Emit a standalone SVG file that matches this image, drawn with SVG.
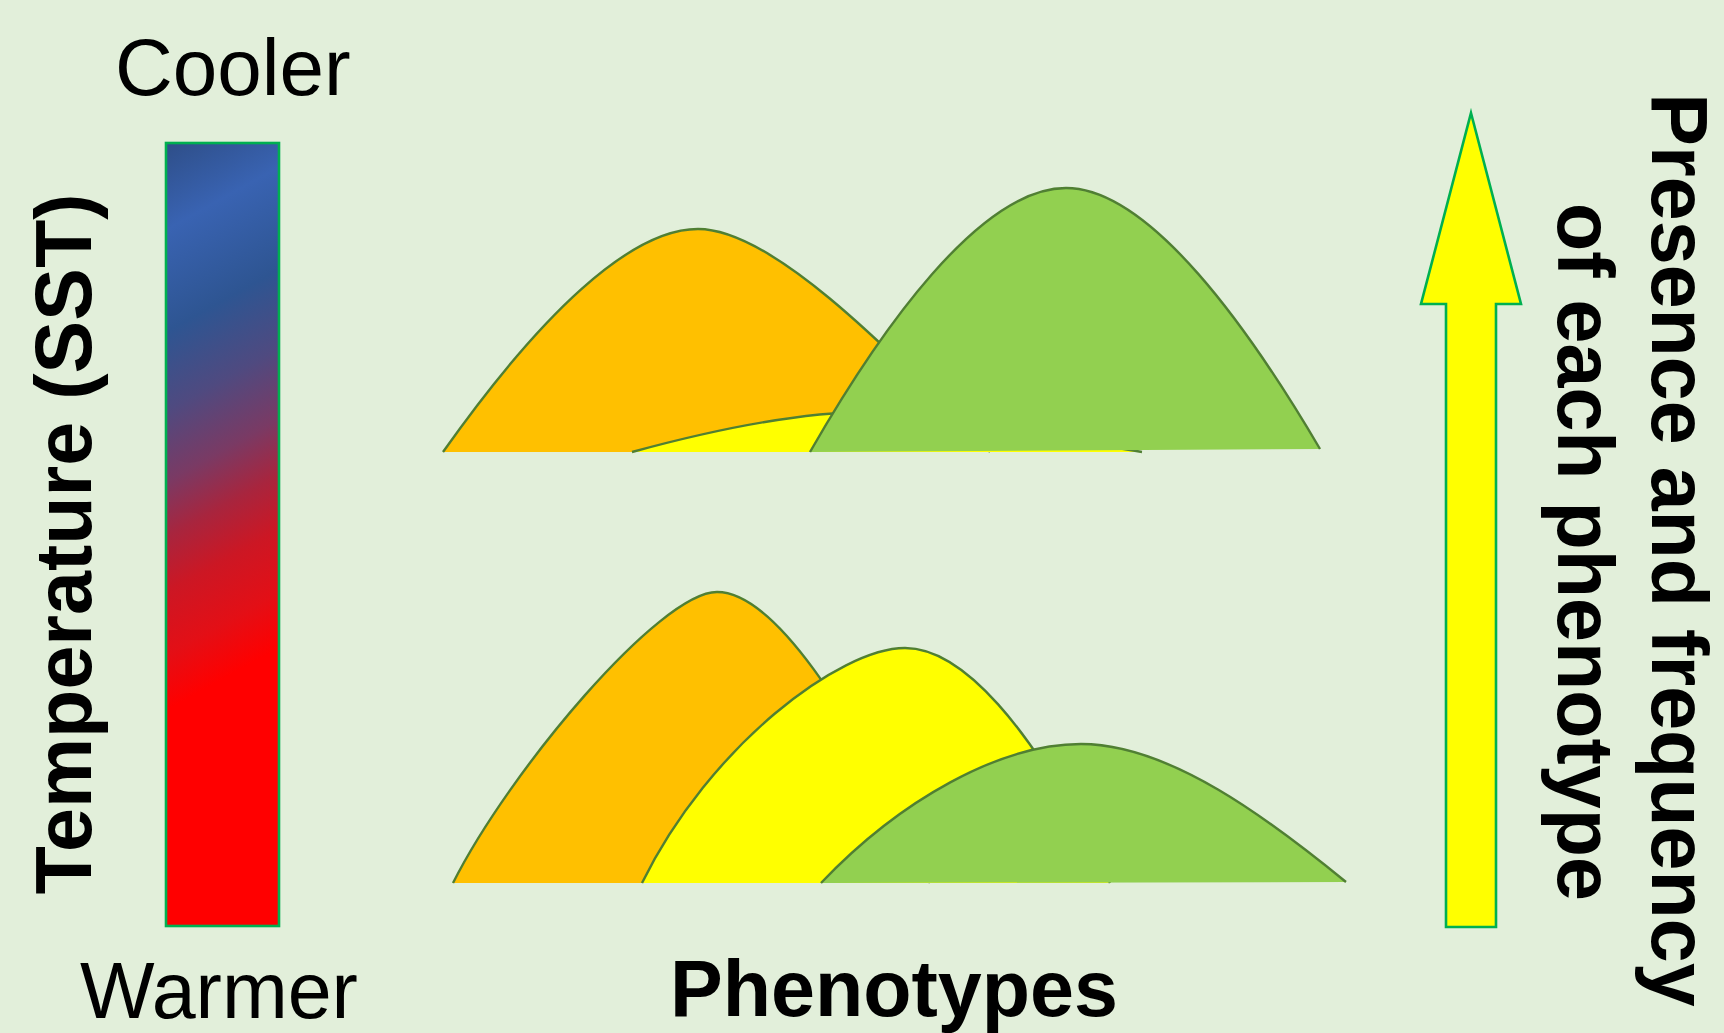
<svg xmlns="http://www.w3.org/2000/svg" width="1724" height="1033" viewBox="0 0 1724 1033">
  <defs>
    <linearGradient id="temp" x1="0" y1="0" x2="0.08" y2="1">
      <stop offset="0" stop-color="#2E4E88"/>
      <stop offset="0.11" stop-color="#3963B2"/>
      <stop offset="0.24" stop-color="#2E5592"/>
      <stop offset="0.34" stop-color="#4F4A80"/>
      <stop offset="0.43" stop-color="#7A3A64"/>
      <stop offset="0.50" stop-color="#A8253E"/>
      <stop offset="0.57" stop-color="#CC1724"/>
      <stop offset="0.65" stop-color="#E30F16"/>
      <stop offset="0.72" stop-color="#FF0000"/>
      <stop offset="1" stop-color="#FF0000"/>
    </linearGradient>
  </defs>
  <style>
    .lbl { font-family: "Liberation Sans", Arial, sans-serif; fill: #000000; }
    .bold { font-weight: bold; }
    .curve { stroke: #507F33; stroke-width: 2.4; stroke-linejoin: round; }
    .orange { fill: #FFC000; }
    .yellow { fill: #FFFF00; }
    .green { fill: #92D050; }
  </style>
  <rect x="0" y="0" width="1724" height="1033" fill="#E2EFDA"/>

  <g id="temperature-bar">
    <rect x="166" y="143" width="113" height="783" fill="url(#temp)" stroke="#00B050" stroke-width="2.6"/>
  </g>
  <g id="label-cooler">
    <text class="lbl" x="115" y="95" font-size="80">Cooler</text>
  </g>
  <g id="label-warmer">
    <text class="lbl" x="80" y="1018" font-size="79">Warmer</text>
  </g>
  <g id="label-temperature">
    <text class="lbl bold" font-size="79" text-anchor="middle" transform="translate(91,544) rotate(-90)">Temperature (SST)</text>
  </g>

  <g id="top-distributions">
    <path class="orange curve" d="M443,452 C540,315 630,229 698,229 C770,229 880,340 990,452"/>
    <path class="yellow curve" d="M632,452 C720,428 800,412 870,412 C960,412 1060,440 1142,452"/>
    <path class="green curve" d="M810,452 C880,330 980,188 1066,188 C1150,188 1250,330 1320,449"/>
  </g>

  <g id="bottom-distributions">
    <path class="orange curve" d="M453,883 C510,770 660,592 717,592 C770,592 850,700 930,883"/>
    <path class="yellow curve" d="M642,883 C710,745 840,648 905,648 C960,648 1030,720 1110,883"/>
    <path class="green curve" d="M821,883 C900,800 1000,744 1081,744 C1170,744 1270,820 1346,882"/>
  </g>

  <g id="connectors">
    <polygon id="frequency-arrow" points="1471,113 1521,304 1496,304 1496,927 1446,927 1446,304 1421,304" fill="#FFFF00" stroke="#00B050" stroke-width="2.6" stroke-linejoin="miter"/>
  </g>

  <g id="label-phenotypes">
    <text class="lbl bold" x="894" y="1016" font-size="79" text-anchor="middle">Phenotypes</text>
  </g>
  <g id="label-presence">
    <text class="lbl bold" font-size="79" text-anchor="middle" transform="translate(1652,550) rotate(90)">Presence and frequency</text>
    <text class="lbl bold" font-size="79" text-anchor="middle" transform="translate(1558,552) rotate(90)">of each phenotype</text>
  </g>
</svg>
